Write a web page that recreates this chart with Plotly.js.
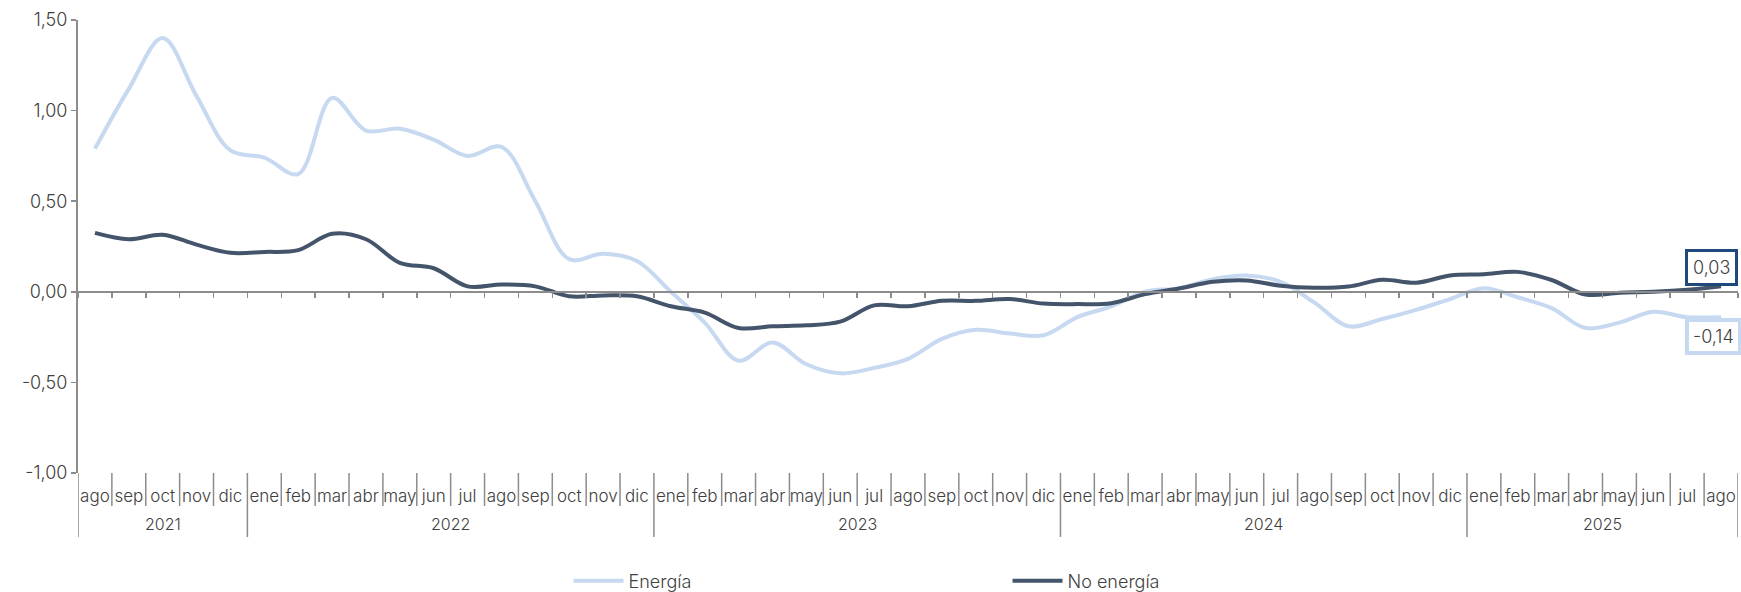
<!DOCTYPE html>
<html>
<head>
<meta charset="utf-8">
<script src="https://cdn.plot.ly/plotly-3.0.1.min.js"></script>
<style>
  html, body { margin: 0; padding: 0; background: #ffffff; }
  #chart { width: 1741px; height: 592px; }
</style>
</head>
<body>
<div id="chart"></div>
<script>
// ---- data ----
const monthLabels = [
  'ago','sep','oct','nov','dic',
  'ene','feb','mar','abr','may','jun','jul','ago','sep','oct','nov','dic',
  'ene','feb','mar','abr','may','jun','jul','ago','sep','oct','nov','dic',
  'ene','feb','mar','abr','may','jun','jul','ago','sep','oct','nov','dic',
  'ene','feb','mar','abr','may','jun','jul','ago'
];
const years = ['2021', '2022', '2023', '2024', '2025'];

const energia = [
  0.79, 1.12, 1.40, 1.08, 0.78,
  0.74, 0.65, 1.07, 0.89, 0.90, 0.84, 0.75, 0.80, 0.50, 0.18, 0.21, 0.17,
  0.00, -0.17, -0.38, -0.28, -0.40, -0.45, -0.42, -0.37, -0.26, -0.21, -0.23, -0.24,
  -0.14, -0.08, 0.00, 0.02, 0.07, 0.09, 0.055, -0.06, -0.19, -0.15, -0.10, -0.04,
  0.02, -0.03, -0.09, -0.20, -0.17, -0.11, -0.14, -0.14
];
const noEnergia = [
  0.325, 0.29, 0.315, 0.26, 0.215,
  0.22, 0.23, 0.32, 0.29, 0.16, 0.13, 0.03, 0.04, 0.03, -0.025, -0.02, -0.025,
  -0.08, -0.115, -0.20, -0.19, -0.185, -0.165, -0.075, -0.08, -0.05, -0.05, -0.04, -0.065,
  -0.068, -0.063, -0.013, 0.018, 0.055, 0.063, 0.033, 0.022, 0.029, 0.066, 0.05, 0.09,
  0.097, 0.11, 0.065, -0.015, -0.005, 0.0, 0.011, 0.03
];
const seriesNames = ['Energía', 'No energía'];
const yTickVals = [1.5, 1.0, 0.5, 0.0, -0.5, -1.0];
const yTickText = ['1,50', '1,00', '0,50', '0,00', '-0,50', '-1,00'];

// ---- styling ----
const cLight = '#C6D9F1';
const cDark = '#44546A';
const cBorderDark = '#1F497D';
const axisGrey = '#8C8C8C';
const textCol = '#404040';
const FONT = 'Inter, Lato, sans-serif';
const W = 300;

const idx = monthLabels.map((_, i) => i);
const n = monthLabels.length;

const traces = [
  { x: idx, y: energia, name: seriesNames[0], type: 'scatter', mode: 'lines',
    line: { color: cLight, width: 4, shape: 'spline', smoothing: 1 }, hoverinfo: 'skip' },
  { x: idx, y: noEnergia, name: seriesNames[1], type: 'scatter', mode: 'lines',
    line: { color: cDark, width: 4, shape: 'spline', smoothing: 1 }, hoverinfo: 'skip' },
  // invisible trace to materialise the zero-line axis
  { x: [0], y: [0], xaxis: 'x2', yaxis: 'y', mode: 'markers', marker: { opacity: 0 },
    showlegend: false, hoverinfo: 'skip' }
];

// boundaries between months
const boundaries = [];
for (let i = 0; i <= n; i++) boundaries.push(i - 0.5);

// year starts: first label, then each 'ene'
const yearStarts = [0];
monthLabels.forEach((m, i) => { if (m === 'ene' && i > 0) yearStarts.push(i); });
const yearEnds = yearStarts.slice(1).map(s => s - 1).concat([n - 1]);

const plotTopPx = 20, plotBotPx = 473, plotH = plotBotPx - plotTopPx;
const pxToPaper = p => (plotBotPx - p) / plotH;

const shapes = [];
boundaries.forEach((b, i) => {
  const isYear = yearStarts.includes(i) || i === n;
  shapes.push({
    type: 'line', xref: 'x', yref: 'paper', x0: b, x1: b,
    y0: 0, y1: pxToPaper(isYear ? 537 : 506),
    line: { color: axisGrey, width: 1.5 }
  });
});

const annotations = [];
years.forEach((yr, k) => {
  annotations.push({
    xref: 'x', yref: 'paper', x: (yearStarts[k] + yearEnds[k]) / 2, y: pxToPaper(524),
    text: yr, showarrow: false, yanchor: 'middle', xanchor: 'center',
    font: { family: FONT, size: 16, color: textCol, weight: W }
  });
});
const fmt = v => (v < 0 ? '-' : '') + Math.abs(v).toFixed(2).replace('.', ',');
annotations.push({
  xref: 'x', yref: 'y', x: n - 1, y: noEnergia[n - 1], text: fmt(noEnergia[n - 1]),
  showarrow: false, xshift: -10, yshift: 19, bgcolor: '#ffffff',
  bordercolor: cBorderDark, borderwidth: 3, borderpad: 5,
  font: { family: FONT, size: 18, color: textCol, weight: W }
});
annotations.push({
  xref: 'x', yref: 'y', x: n - 1, y: energia[n - 1], text: fmt(energia[n - 1]),
  showarrow: false, xshift: -8, yshift: -19, bgcolor: '#ffffff',
  bordercolor: cLight, borderwidth: 4, borderpad: 4,
  font: { family: FONT, size: 18, color: textCol, weight: W }
});

const layout = {
  width: 1741, height: 592,
  margin: { l: 78, r: 3, t: plotTopPx, b: 592 - plotBotPx, pad: 0, autoexpand: false },
  paper_bgcolor: '#ffffff', plot_bgcolor: '#ffffff',
  font: { family: FONT, color: textCol, weight: W },
  separators: ', ',
  showlegend: true,
  legend: {
    orientation: 'h', x: 0.2955, xanchor: 'left', y: pxToPaper(581), yanchor: 'middle',
    entrywidth: 374, entrywidthmode: 'pixels', itemwidth: 50,
    font: { family: FONT, size: 18, color: textCol, weight: W }, bgcolor: 'rgba(0,0,0,0)'
  },
  xaxis: {
    range: [-0.5, n - 0.5], showgrid: false, zeroline: false, showline: false,
    tickmode: 'array', tickvals: idx, ticktext: monthLabels, ticks: '',
    ticklabelstandoff: 11, tickangle: 0,
    tickfont: { family: FONT, size: 17, color: textCol, weight: W }, fixedrange: true
  },
  xaxis2: {
    overlaying: 'x', anchor: 'free', position: 0.4, side: 'bottom',
    range: [-0.5, n - 0.5], showgrid: false, zeroline: false,
    showline: true, linecolor: axisGrey, linewidth: 2,
    tickmode: 'array', tickvals: boundaries, ticks: 'outside', ticklen: 5,
    tickwidth: 1.5, tickcolor: axisGrey, showticklabels: false
  },
  yaxis: {
    range: [-1, 1.5], showgrid: false, zeroline: false,
    showline: true, linecolor: axisGrey, linewidth: 2,
    tickmode: 'array', tickvals: yTickVals, ticktext: yTickText,
    ticks: 'outside', ticklen: 5, tickwidth: 1.5, tickcolor: axisGrey,
    tickfont: { family: FONT, size: 18, color: textCol, weight: W }, fixedrange: true
  },
  shapes: shapes,
  annotations: annotations
};

Plotly.newPlot('chart', traces, layout, { staticPlot: true, displayModeBar: false });
</script>
</body>
</html>
